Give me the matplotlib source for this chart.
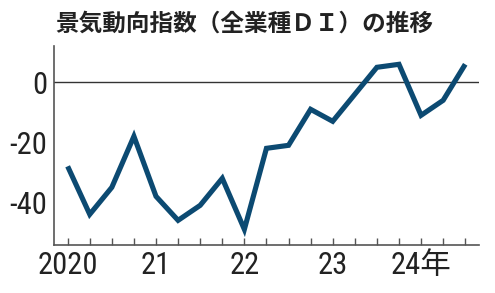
import matplotlib.pyplot as plt
from matplotlib import font_manager
import numpy as np

# Quarterly business-condition DI (all industries), 2020 Q1 .. 2024 Q3
values = [-28, -44, -35, -18, -38, -46, -41, -32, -49,
          -22, -21, -9, -13, -4, 5, 6, -11, -6, 6]
year_labels = ['2020', '21', '22', '23', '24年']
year_positions = [0, 4, 8, 12, 16]
y_ticks = [0, -20, -40]

title = '景気動向指数（全業種ＤＩ）の推移'

# pick a narrow face for the numbers if one is installed
installed = {f.name: f for f in font_manager.fontManager.ttflist}
narrow = None
for name in ['Liberation Sans Narrow', 'Roboto Condensed', 'Open Sans Condensed',
             'Noto Sans Condensed', 'DejaVu Sans Condensed']:
    if name in installed:
        narrow = name
        break
num_stretch = 'normal'
if narrow is None:
    for f in font_manager.fontManager.ttflist:
        if f.stretch in ('condensed', 'semi-condensed', 'extra-condensed') \
                or 'Condensed' in f.fname or 'Narrow' in f.fname:
            narrow = f.name
            num_stretch = f.stretch
            break
num_font = ([narrow] if narrow else []) + ['Noto Sans CJK JP', 'DejaVu Sans']
num_size = 22 if narrow else 17

line_color = '#0c4a72'
text_color = '#222222'

fig = plt.figure(figsize=(4.95, 2.93), dpi=100)
ax = fig.add_axes([0.109, 0.164, 0.859, 0.679])

x = np.arange(len(values))
ax.plot(x, values, color=line_color, linewidth=3.7, solid_joinstyle='miter',
        solid_capstyle='butt', zorder=3)
ax.axhline(0, color='#333333', linewidth=1.0, zorder=2)

ax.set_xlim(-0.62, len(values) - 1 + 0.63)
ax.set_ylim(-54.2, 12.1)

for side in ['top', 'right']:
    ax.spines[side].set_visible(False)
for side in ['left', 'bottom']:
    ax.spines[side].set_color('#555555')
    ax.spines[side].set_linewidth(1.2)

ax.set_xticks(x)
ax.set_xticklabels([''] * len(x))
ax.tick_params(axis='x', direction='in', length=5, width=1, color='#555555')
for pos, lab in zip(year_positions, year_labels):
    ax.text(pos, -0.03, lab, transform=ax.get_xaxis_transform(),
            ha='center', va='top', fontsize=num_size, family=num_font,
            fontstretch=num_stretch, color=text_color)

ax.set_yticks(y_ticks)
ax.set_yticklabels([str(v) for v in y_ticks], fontsize=num_size,
                   family=num_font, fontstretch=num_stretch, color=text_color)
ax.tick_params(axis='y', length=0, pad=5)

fig.text(0.111, 0.918, title, fontsize=17, fontweight='bold',
         family=['Noto Sans CJK JP', 'DejaVu Sans'], color=text_color,
         ha='left', va='center')

fig.savefig('out.png', dpi=100)
